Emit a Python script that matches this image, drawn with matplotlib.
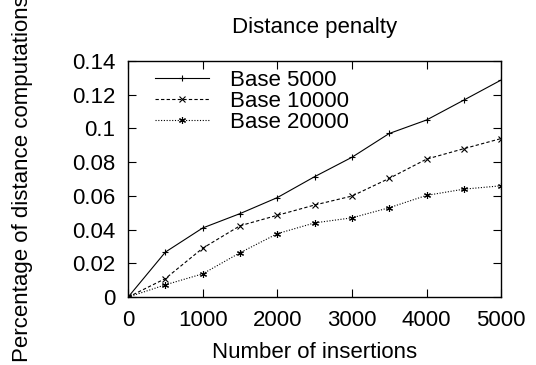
import matplotlib
matplotlib.use("Agg")
import matplotlib.pyplot as plt

insertions = [0, 500, 1000, 1500, 2000, 2500, 3000, 3500, 4000, 4500, 5000]
base_5000 = [0, 0.0267, 0.041, 0.0495, 0.059, 0.0714, 0.0829, 0.097, 0.105, 0.1168, 0.1287]
base_10000 = [0, 0.011, 0.029, 0.0423, 0.0485, 0.0546, 0.0599, 0.0704, 0.0818, 0.088, 0.094]
base_20000 = [0, 0.0073, 0.0138, 0.0263, 0.0376, 0.044, 0.047, 0.053, 0.0603, 0.064, 0.066]

xticks = [0, 1000, 2000, 3000, 4000, 5000]
yticks = [0, 0.02, 0.04, 0.06, 0.08, 0.1, 0.12, 0.14]
ytick_labels = ["0", "0.02", "0.04", "0.06", "0.08", "0.1", "0.12", "0.14"]


def main():
    plt.rcParams["font.family"] = ["Liberation Sans", "DejaVu Sans"]
    fig = plt.figure(figsize=(5.36, 3.65), dpi=100)
    ax = fig.add_axes([0.239, 0.186, 0.696, 0.647])

    star = (6, 2, 0)
    ax.plot(insertions, base_5000, color="black", lw=0.8, ls="-",
            marker="+", ms=5, mew=0.8, label="Base 5000")
    ax.plot(insertions, base_10000, color="black", lw=0.8, ls=(0, (3, 2)),
            marker="x", ms=4.5, mew=0.8, label="Base 10000")
    ax.plot(insertions, base_20000, color="black", lw=0.8, ls=(0, (1, 1.5)),
            marker=star, ms=5, mew=0.8, label="Base 20000")

    ax.set_xlim(0, 5000)
    ax.set_ylim(0, 0.14)
    ax.set_xticks(xticks)
    ax.set_yticks(yticks)
    ax.set_yticklabels(ytick_labels)
    ax.tick_params(direction="in", top=True, right=True, length=6,
                   width=0.8, labelsize=16)
    ax.tick_params(axis="x", pad=9)
    ax.tick_params(axis="y", pad=9)
    for s in ax.spines.values():
        s.set_linewidth(1.0)

    ax.set_xlabel("Number of insertions", fontsize=16, labelpad=8)
    # the reference also lets this label run off the top edge
    ax.set_ylabel("Percentage of distance computations", fontsize=16, labelpad=28)
    ax.set_title("Distance penalty", fontsize=16, pad=20)

    ax.legend(loc="upper left", frameon=False, fontsize=16,
              handlelength=2.43, handletextpad=0.95, labelspacing=0.0,
              borderaxespad=0.0, bbox_to_anchor=(0.049, 1.0))

    fig.savefig("out.png", dpi=100)


if __name__ == "__main__":
    main()
